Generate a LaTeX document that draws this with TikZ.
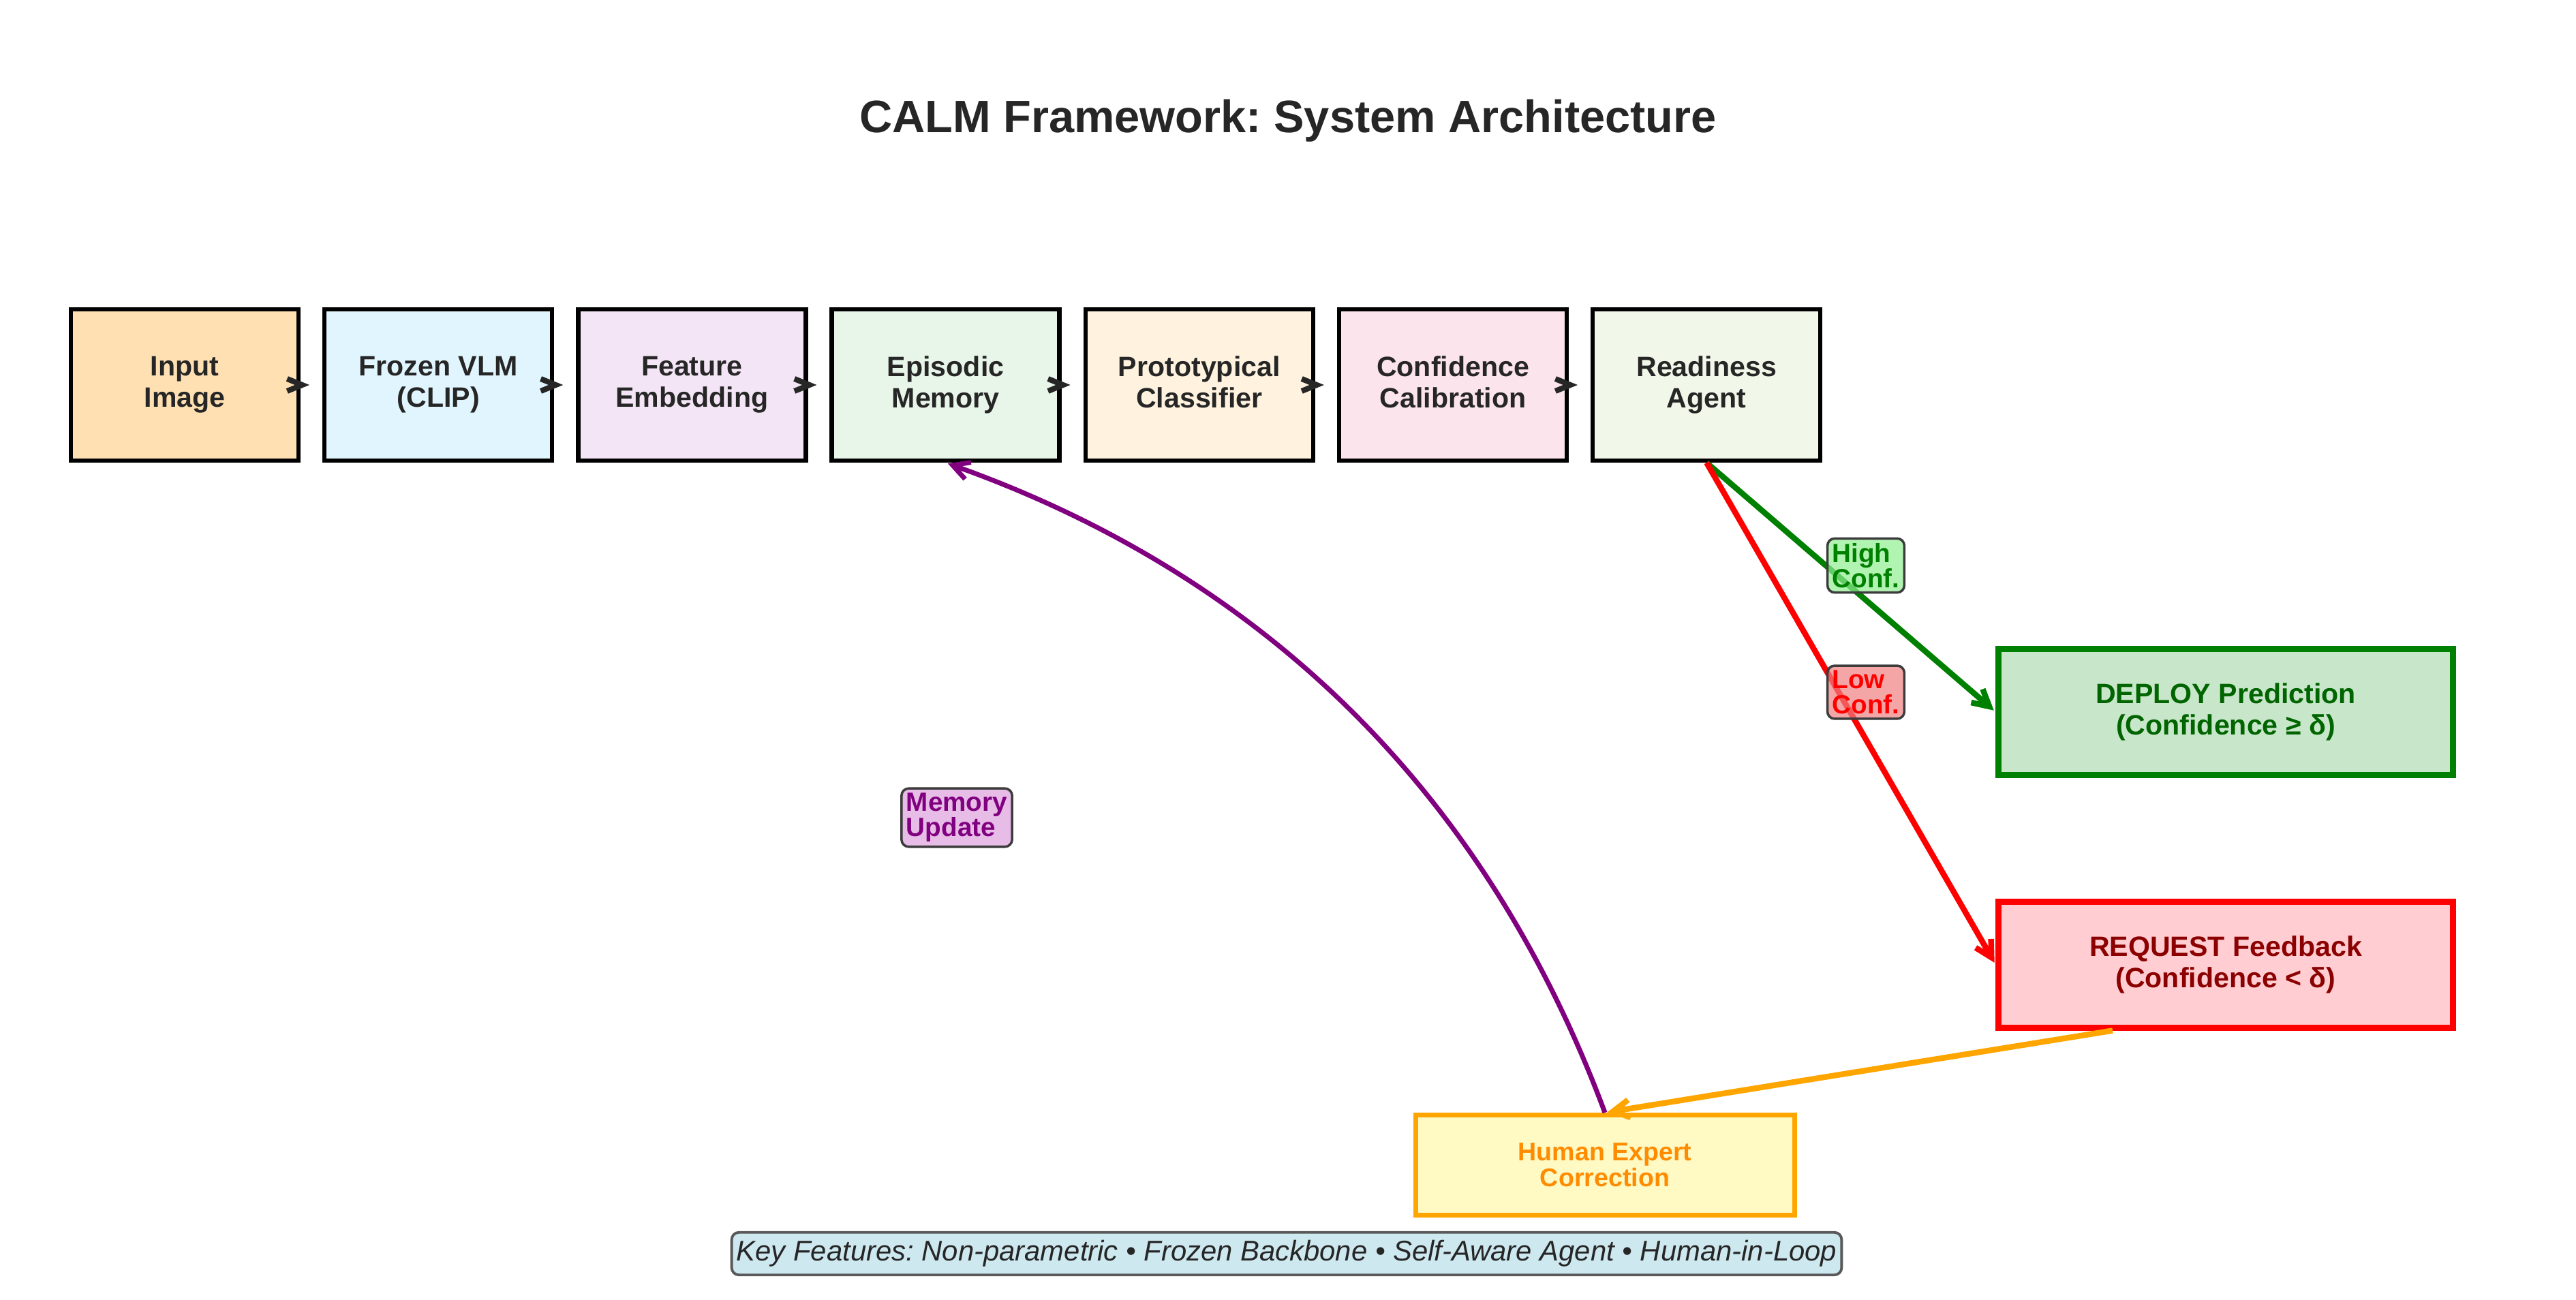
\documentclass[tikz,border=0pt]{standalone}
\usepackage{fontspec}
\setmainfont{Liberation Sans}
\usetikzlibrary{arrows.meta}
\frenchspacing

\definecolor{ink}{HTML}{262626}
\definecolor{cInput}{HTML}{FFE0B2}
\definecolor{cVLM}{HTML}{E1F5FE}
\definecolor{cEmbed}{HTML}{F3E5F5}
\definecolor{cMemory}{HTML}{E8F5E9}
\definecolor{cProto}{HTML}{FFF3E0}
\definecolor{cCalib}{HTML}{FCE4EC}
\definecolor{cAgent}{HTML}{F1F8E9}
\definecolor{cGreen}{HTML}{008000}
\definecolor{cDarkGreen}{HTML}{006400}
\definecolor{cRed}{HTML}{FF0000}
\definecolor{cDarkRed}{HTML}{8B0000}
\definecolor{cOrange}{HTML}{FFA500}
\definecolor{cDarkOrange}{HTML}{FF8C00}
\definecolor{cPurple}{HTML}{800080}
\definecolor{cLightGreen}{HTML}{90EE90}
\definecolor{cCoral}{HTML}{F08080}
\definecolor{cPlum}{HTML}{DDA0DD}
\definecolor{cLightBlue}{HTML}{ADD8E6}
\definecolor{cDeploy}{HTML}{C8E6C9}
\definecolor{cRequest}{HTML}{FFCDD2}
\definecolor{cHuman}{HTML}{FFF9C4}

\begin{document}
\begin{tikzpicture}[
  stagebox/.style={draw=black, line width=1.8pt, minimum width=3.34cm, minimum height=2.22cm,
    align=center, text=ink, text depth=2.5pt, font=\fontsize{11.7}{13.1}\selectfont\bfseries},
  outbox/.style={line width=2.3pt, minimum width=6.67cm, minimum height=1.85cm,
    align=center, font=\fontsize{11.7}{13}\selectfont\bfseries},
  tagbox/.style={draw=ink!90, line width=1pt, rounded corners=3pt, fill opacity=0.7, text opacity=1,
    inner sep=2pt, align=left, font=\fontsize{11}{10.5}\selectfont\bfseries},
  flow/.style={draw=ink, line width=2.3pt, -{Straight Barb[length=2.2mm,width=1.8mm]}, shorten >=0.19cm},
  decide/.style={line width=2.4pt, -{Straight Barb[length=2.4mm,width=2.6mm]}, shorten >=1pt}
]
\useasboundingbox (0,0) rectangle (37.8,19.07);

\node[anchor=base, text=ink, font=\fontsize{19}{23}\selectfont\bfseries] (title) at (18.9,17.12)
  {CALM Framework: System Architecture};

% pipeline stages
\foreach \i/\name/\txt/\col in {
  0/input/{Input\\Image}/cInput,
  1/vlm/{Frozen VLM\\(CLIP)}/cVLM,
  2/embed/{Feature\\Embedding}/cEmbed,
  3/memory/{Episodic\\Memory}/cMemory,
  4/proto/{Prototypical\\Classifier}/cProto,
  5/calib/{Confidence\\Calibration}/cCalib,
  6/agent/{Readiness\\Agent}/cAgent}
{
  \node[stagebox, fill=\col] (\name) at ({2.71+3.722*\i}, 13.42) {\txt};
}
\foreach \a/\b in {input/vlm, vlm/embed, embed/memory, memory/proto, proto/calib, calib/agent}
  \draw[flow] (\a) -- (\b);

% decisions
\node[outbox, draw=cGreen, fill=cDeploy, text=cDarkGreen] (deploy) at (32.66,8.62)
  {DEPLOY Prediction\\(Confidence ≥ δ)};
\node[outbox, draw=cRed, fill=cRequest, text=cDarkRed] (request) at (32.66,4.91)
  {REQUEST Feedback\\(Confidence < δ)};
\node[draw=cOrange, fill=cHuman, text=cDarkOrange, line width=2pt, minimum width=5.56cm,
  minimum height=1.47cm, align=center, font=\fontsize{10.7}{10.9}\selectfont\bfseries] (human)
  at (23.55,1.97) {Human Expert\\Correction};

\draw[decide, cGreen] (agent.south) -- (deploy.west);
\draw[decide, cRed] (agent.south) -- (request.west);
\draw[decide, cOrange] ([xshift=-1.66cm]request.south) -- (human.north);
\draw[decide, cPurple, line width=2pt] (human.north) to[bend right=25, looseness=0.94] (memory.south);

\node[tagbox, fill=cLightGreen, text=cGreen] (high) at (27.38,10.77) {High\\Conf.};
\node[tagbox, fill=cCoral, text=cRed] (low) at (27.38,8.91) {Low\\Conf.};
\node[tagbox, fill=cPlum, text=cPurple] (update) at (14.04,7.07) {Memory\\Update};

\node[draw=black!65, line width=1.1pt, rounded corners=3pt, fill=cLightBlue, fill opacity=0.6,
  text opacity=1, text=ink, inner xsep=2pt, minimum height=0.55cm,
  font=\fontsize{11.9}{14}\selectfont\itshape] (key) at (18.88,0.67)
  {Key Features: Non-parametric • Frozen Backbone • Self-Aware Agent • Human-in-Loop};
\end{tikzpicture}
\end{document}
